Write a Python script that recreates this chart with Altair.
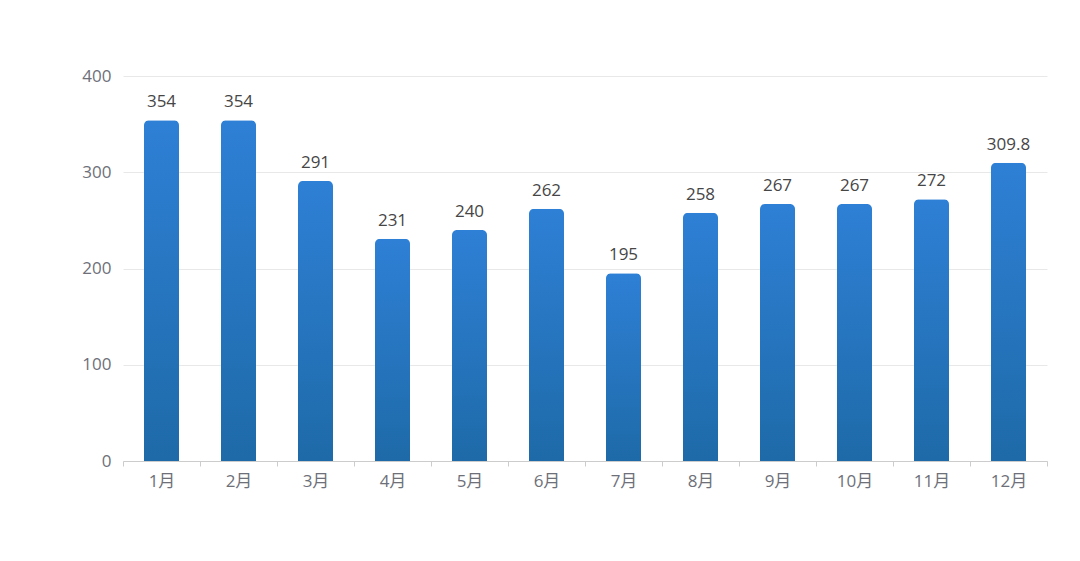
import altair as alt
import pandas as pd

months = ["1月", "2月", "3月", "4月", "5月", "6月", "7月", "8月", "9月", "10月", "11月", "12月"]
values = [354, 354, 291, 231, 240, 262, 195, 258, 267, 267, 272, 309.8]
labels = ["354", "354", "291", "231", "240", "262", "195", "258", "267", "267", "272", "309.8"]

df = pd.DataFrame({"month": months, "value": values, "label": labels})

FONT = "Open Sans, Noto Sans CJK SC, sans-serif"

x = alt.X("month:N", sort=months, title=None,
          scale=alt.Scale(paddingInner=0, paddingOuter=0),
          axis=alt.Axis(labelAngle=0, labelFontSize=17, labelColor="#6e7079", labelFont=FONT,
                        labelPadding=7, tickBand="extent", ticks=True, tickSize=5,
                        tickColor="#cccccc", domainColor="#cccccc", grid=False))
y = alt.Y("value:Q", title=None,
          scale=alt.Scale(domain=[0, 400]),
          axis=alt.Axis(values=[0, 100, 200, 300, 400], labelFontSize=17, labelColor="#6e7079",
                        labelFont=FONT, labelPadding=12, domain=False, ticks=False,
                        gridColor="#e8e8e8", gridWidth=1))

bars = alt.Chart(df).mark_bar(
    size=35,
    cornerRadiusTopLeft=5,
    cornerRadiusTopRight=5,
    color=alt.Gradient(
        gradient="linear", x1=0, y1=0, x2=0, y2=1,
        stops=[alt.GradientStop(color="#2e80d6", offset=0),
               alt.GradientStop(color="#1e6aa8", offset=1)],
    ),
).encode(x=x, y=y)

text = alt.Chart(df).mark_text(
    baseline="bottom", dy=-9, fontSize=17, color="#464646", font=FONT
).encode(x=alt.X("month:N", sort=months), y="value:Q", text="label:N")

chart = (bars + text).properties(
    width=924, height=385,
    autosize=alt.AutoSizeParams(type="none"),
    padding={"left": 115, "top": 68, "right": 25, "bottom": 70},
).configure(background="white").configure_view(stroke=None, strokeWidth=0)

chart.save("out.html", embed_options={"renderer": "svg", "actions": False})
